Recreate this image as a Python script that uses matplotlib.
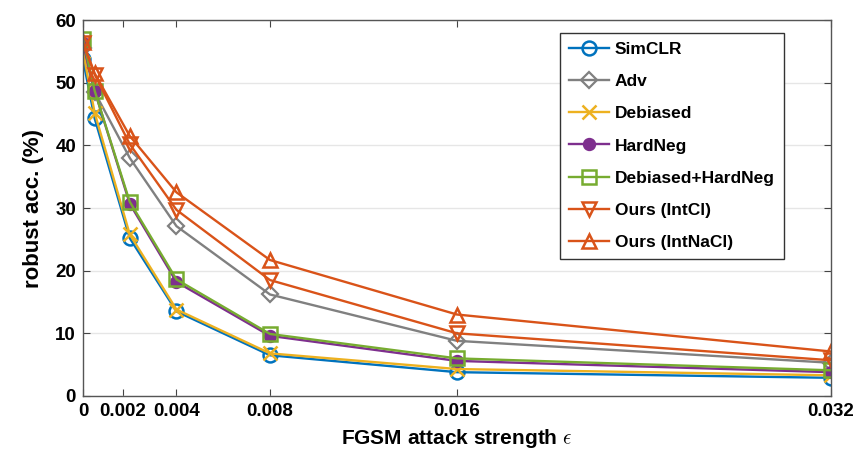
import numpy as np
import matplotlib
matplotlib.use("Agg")
import matplotlib.pyplot as plt

plt.rcParams['font.family'] = ['Liberation Sans', 'DejaVu Sans']
plt.rcParams['font.weight'] = 'bold'
plt.rcParams['mathtext.fontset'] = 'cm'

# FGSM attack strength
eps = [0, 0.0005, 0.002, 0.004, 0.008, 0.016, 0.032]

simclr = [53.7, 44.3, 25.2, 13.5, 6.5, 3.8, 2.9]
adv = [55.5, 48.5, 38.0, 27.1, 16.2, 8.8, 5.3]
debiased = [55.0, 45.2, 25.8, 13.8, 6.8, 4.3, 3.3]
hardneg = [56.3, 48.7, 30.7, 18.2, 9.6, 5.6, 3.8]
deb_hardneg = [57.0, 48.7, 31.0, 18.6, 9.9, 6.0, 4.1]
ours_intcl = [56.3, 51.3, 40.2, 29.7, 18.5, 10.0, 5.7]
ours_intnacl = [56.5, 51.5, 41.5, 32.5, 21.7, 13.0, 7.1]

# the 0.002 tick sits a little left in the original figure
xticks = [0, 0.0017, 0.004, 0.008, 0.016, 0.032]
xticklabels = ['0', '0.002', '0.004', '0.008', '0.016', '0.032']

fig = plt.figure(figsize=(8.58, 4.58), dpi=100)
ax = fig.add_axes([0.0967, 0.1354, 0.8718, 0.8209])

lw = 1.7
ms = 10
ax.plot(eps, simclr, '-o', color='#0072BD', lw=lw, ms=ms, mfc='none', mew=1.8, label='SimCLR')
ax.plot(eps, adv, '-D', color='#808080', lw=lw, ms=ms - 1.5, mfc='none', mew=1.6, label='Adv')
ax.plot(eps, debiased, '-x', color='#EDB120', lw=lw, ms=ms, mew=1.8, label='Debiased')
ax.plot(eps, hardneg, '-o', color='#7E2F8E', lw=lw, ms=ms - 2, mfc='#7E2F8E', mew=1.6, label='HardNeg')
ax.plot(eps, deb_hardneg, '-s', color='#77AC30', lw=lw, ms=ms, mfc='none', mew=1.8, label='Debiased+HardNeg')
ax.plot(eps, ours_intcl, '-v', color='#D95319', lw=lw, ms=ms, mfc='none', mew=1.8, label='Ours (IntCl)')
ax.plot(eps, ours_intnacl, '-^', color='#D95319', lw=lw, ms=ms, mfc='none', mew=1.8, label='Ours (IntNaCl)')

ax.set_xlim(0, 0.032)
ax.set_ylim(0, 60)
ax.set_xticks(xticks)
ax.set_xticklabels(xticklabels)
ax.set_yticks(np.arange(0, 61, 10))
ax.tick_params(labelsize=13.5, direction='in', top=True, right=True, length=5, color='#444444', pad=5)
ax.grid(axis='y', color='#e6e6e6', lw=1)
ax.set_axisbelow(True)
for s in ax.spines.values():
    s.set_color('#555555')
    s.set_linewidth(1)

ax.set_xlabel(r'FGSM attack strength $\epsilon$', fontsize=15, fontweight='bold', labelpad=5)
ax.set_ylabel('robust acc. (%)', fontsize=16, fontweight='bold', labelpad=8)

leg = ax.legend(loc='upper left', bbox_to_anchor=(0.638, 0.965), fontsize=12.5,
                fancybox=False, edgecolor='#333333', framealpha=1,
                handlelength=2.3, borderpad=0.5, labelspacing=0.98, handletextpad=0.35,
                borderaxespad=0)
leg.get_frame().set_linewidth(1)

fig.savefig('out.png', dpi=100)
